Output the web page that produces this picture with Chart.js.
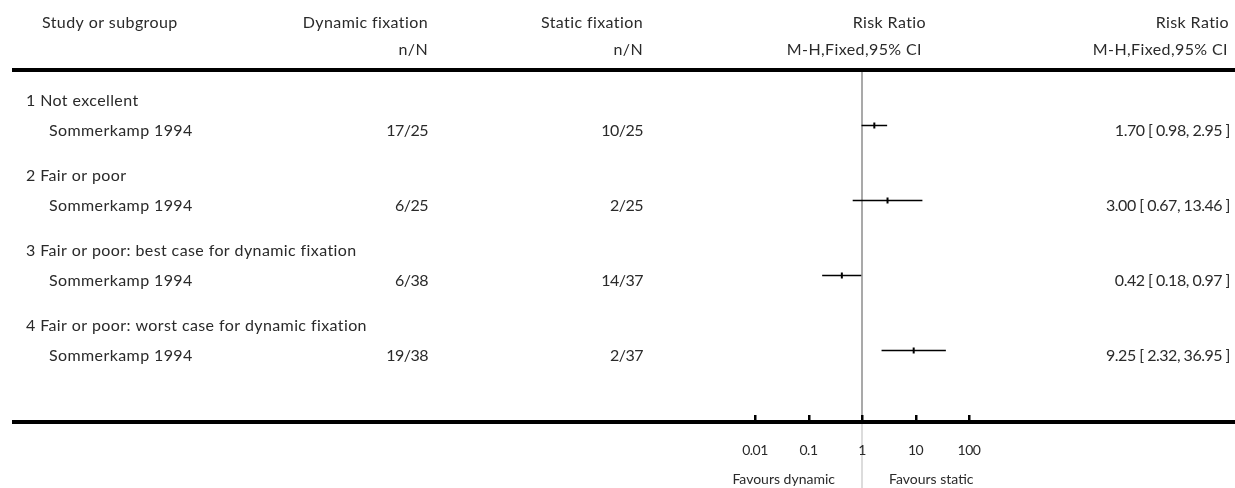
<!DOCTYPE html>
<html>
<head>
<meta charset="utf-8">
<script src="https://cdn.jsdelivr.net/npm/chart.js@4.4.1/dist/chart.umd.min.js"></script>
<style>
	html, body { margin: 0; padding: 0; background: #fff; }
	#forest { display: block; }
</style>
</head>
<body>
<canvas id="forest" width="1235" height="488"></canvas>
<script>
'use strict'
/*-----Data-----*/
var subgroups = ['1 Not excellent', '2 Fair or poor', '3 Fair or poor: best case for dynamic fixation', '4 Fair or poor: worst case for dynamic fixation'];
var studies = ['Sommerkamp 1994', 'Sommerkamp 1994', 'Sommerkamp 1994', 'Sommerkamp 1994'];
var dynamicCounts = ['17/25', '6/25', '6/38', '19/38'];
var staticCounts = ['10/25', '2/25', '14/37', '2/37'];
var riskRatio = [1.70, 3.00, 0.42, 9.25];
var ciLow = [0.98, 0.67, 0.18, 2.32];
var ciHigh = [2.95, 13.46, 0.97, 36.95];
var tickValues = [0.01, 0.1, 1, 10, 100];
var tickLabels = ['0.01', '0.1', '1', '10', '100'];

var FONT = '16px Lato';
var TEXT = '#2a2a2a';

// header row sits at 3*i, its study row at 3*i+1
function studyRow(i) { return 3 * i + 1; }
function headerRow(i) { return 3 * i; }

var datasets = [];
riskRatio.forEach(function(rr, i) {
	datasets.push({
		label: 'ci' + i,
		data: [{ x: ciLow[i], y: studyRow(i) }, { x: ciHigh[i], y: studyRow(i) }],
		showLine: true,
		borderColor: '#000',
		borderWidth: 1.5,
		pointRadius: 0
	});
});
datasets.push({
	label: 'estimate',
	data: riskRatio.map(function(rr, i) { return { x: rr, y: studyRow(i) }; }),
	showLine: false,
	pointStyle: 'line',
	rotation: 90,
	pointRadius: 3,
	borderColor: '#000',
	borderWidth: 2
});

function txt(ctx, s, x, y, align, spacing) {
	ctx.textAlign = align || 'left';
	ctx.letterSpacing = spacing || '0px';
	ctx.fillText(s, x, y);
}

/*-----Table + axis plugin-----*/
var forestTable = {
	id: 'forestTable',
	beforeDraw: function(chart) {
		var ctx = chart.ctx;
		ctx.save();
		ctx.fillStyle = '#fff';
		ctx.fillRect(0, 0, chart.width, chart.height);
		ctx.restore();
	},
	beforeDatasetsDraw: function(chart) {
		var ctx = chart.ctx, x = chart.scales.x;
		var x1 = Math.round(x.getPixelForValue(1));
		ctx.save();
		ctx.fillStyle = '#a9a9a9';
		ctx.fillRect(x1 - 1, 72, 2, 348);
		ctx.fillStyle = '#dcdcdc';
		ctx.fillRect(x1 - 1, 424, 2, 64);
		ctx.restore();
	},
	afterDraw: function(chart) {
		var ctx = chart.ctx, x = chart.scales.x, y = chart.scales.y;
		var W = chart.width;
		var sp = '0.4px', num = '-0.5px';
		ctx.save();
		// thick rules
		ctx.fillStyle = '#000';
		ctx.fillRect(12, 68, W - 12, 4);
		ctx.fillRect(12, 420, W - 12, 4);
		// tick marks
		tickValues.forEach(function(v) {
			var px = x.getPixelForValue(v);
			ctx.fillRect(Math.round(px) - 1, 415, 2.5, 6);
		});

		ctx.fillStyle = TEXT;
		ctx.font = FONT;
		ctx.textBaseline = 'middle';
		// headers
		txt(ctx, 'Study or subgroup', 42, 23, 'left', sp);
		txt(ctx, 'Dynamic fixation', 428, 23, 'right', sp);
		txt(ctx, 'n/N', 428, 50, 'right', sp);
		txt(ctx, 'Static fixation', 643, 23, 'right', sp);
		txt(ctx, 'n/N', 643, 50, 'right', sp);
		txt(ctx, 'Risk Ratio', 926, 23, 'right', sp);
		txt(ctx, 'M-H,Fixed,95% CI', 922, 50, 'right', sp);
		txt(ctx, 'Risk Ratio', 1229, 23, 'right', sp);
		txt(ctx, 'M-H,Fixed,95% CI', 1228, 50, 'right', sp);

		// rows
		subgroups.forEach(function(name, i) {
			var yh = y.getPixelForValue(headerRow(i));
			var ys = y.getPixelForValue(studyRow(i)) + 5;
			txt(ctx, name, 26, yh, 'left', sp);
			txt(ctx, studies[i], 49, ys, 'left', sp);
			txt(ctx, dynamicCounts[i], 428, ys, 'right', num);
			txt(ctx, staticCounts[i], 643, ys, 'right', num);
			txt(ctx, riskRatio[i].toFixed(2) + ' [ ' + ciLow[i].toFixed(2) + ', ' + ciHigh[i].toFixed(2) + ' ]', 1230, ys, 'right', num);
		});

		// axis labels
		ctx.font = '14px Lato';
		tickValues.forEach(function(v, k) {
			txt(ctx, tickLabels[k], x.getPixelForValue(v), 450, 'center', num);
		});
		var x1 = x.getPixelForValue(1);
		txt(ctx, 'Favours dynamic', x1 - 27, 479, 'right');
		txt(ctx, 'Favours static', x1 + 27, 479, 'left');
		ctx.restore();
	}
};

var ctx = document.getElementById('forest');
var forestChart = new Chart(ctx, {
	type: 'scatter',
	data: { datasets: datasets },
	options: {
		responsive: false,
		animation: false,
		devicePixelRatio: 1,
		layout: { padding: { left: 755, right: 266, top: 70, bottom: 66 } },
		plugins: { legend: { display: false }, tooltip: { enabled: false } },
		scales: {
			x: { type: 'logarithmic', min: 0.01, max: 100, display: false },
			y: { type: 'linear', reverse: true, min: -1.22, max: 12.86, display: false }
		}
	},
	plugins: [forestTable]
});
</script>
</body>
</html>
